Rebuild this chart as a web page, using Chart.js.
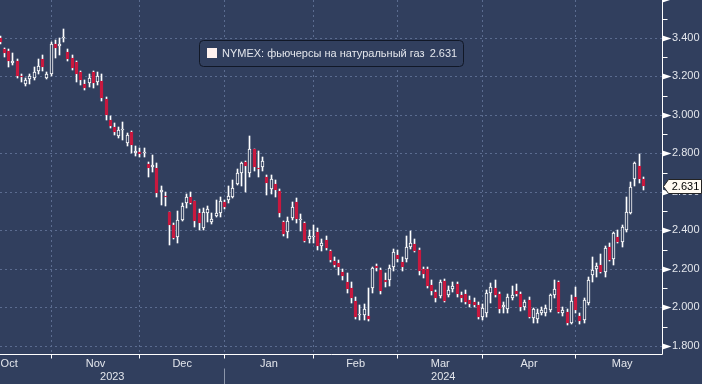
<!DOCTYPE html>
<html><head><meta charset="utf-8">
<script src="https://cdn.jsdelivr.net/npm/chart.js@4.4.1/dist/chart.umd.min.js"></script>
<style>html,body{margin:0;padding:0;background:#313f5e;overflow:hidden}#wrap{width:702px;height:384px;position:relative}</style>
</head><body><div id="wrap"><canvas id="c"></canvas></div>
<script>
// Daily OHLC, NYMEX natural gas front month, mid-Oct 2023 .. late May 2024
const opens = [3.40,3.34,3.33,3.27,3.28,3.20,3.16,3.185,3.19,3.23,
 3.29,3.19,3.21,3.37,3.36,3.40,3.325,3.295,3.275,3.225,
 3.16,3.165,3.225,3.17,3.175,3.085,2.975,2.935,2.89,2.92,
 2.855,2.913,2.80,2.807,2.80,2.745,2.727,2.723,2.597,2.578,
 2.495,2.43,2.365,2.455,2.545,2.575,2.553,2.493,2.41,2.493,
 2.446,2.477,2.493,2.546,2.558,2.576,2.642,2.70,2.754,2.697,
 2.822,2.723,2.731,2.676,2.614,2.642,2.607,2.446,2.394,2.463,
 2.55,2.455,2.437,2.354,2.366,2.39,2.319,2.351,2.295,2.243,
 2.23,2.186,2.13,2.10,2.034,1.96,1.961,1.956,2.10,2.216,
 2.195,2.143,2.143,2.212,2.273,2.238,2.25,2.316,2.33,2.299,
 2.199,2.199,2.117,2.082,2.06,2.139,2.065,2.095,2.122,2.065,
 2.07,2.039,2.03,2.013,1.952,1.97,2.074,2.10,2.07,2.001,
 1.991,2.048,2.087,2.07,2.004,2.039,1.944,1.939,1.973,1.973,
 1.987,2.065,2.134,1.97,1.978,1.921,2.056,1.956,1.935,2.025,
 2.169,2.199,2.221,2.186,2.313,2.25,2.368,2.342,2.403,2.489,
 2.666,2.735,2.666];
const highs = [3.41,3.35,3.34,3.32,3.29,3.21,3.19,3.21,3.25,3.29,
 3.31,3.225,3.38,3.39,3.40,3.445,3.34,3.31,3.28,3.23,
 3.18,3.215,3.23,3.225,3.21,3.095,2.995,2.956,2.935,2.965,
 2.905,2.918,2.84,2.83,2.83,2.757,2.79,2.75,2.633,2.60,
 2.495,2.44,2.50,2.545,2.59,2.60,2.555,2.51,2.515,2.525,
 2.49,2.56,2.575,2.56,2.63,2.66,2.718,2.757,2.76,2.89,
 2.825,2.81,2.78,2.69,2.69,2.66,2.615,2.45,2.47,2.55,
 2.57,2.485,2.445,2.40,2.43,2.41,2.354,2.37,2.30,2.26,
 2.245,2.20,2.18,2.134,2.055,2.01,2.02,2.10,2.21,2.225,
 2.205,2.18,2.22,2.305,2.30,2.26,2.37,2.395,2.355,2.307,
 2.21,2.21,2.14,2.09,2.145,2.15,2.11,2.13,2.13,2.08,
 2.09,2.06,2.05,2.03,2.02,2.09,2.125,2.14,2.08,2.03,
 2.07,2.11,2.12,2.08,2.04,2.055,1.996,1.99,2.00,2.01,
 2.07,2.143,2.135,2.00,1.99,2.065,2.108,1.97,2.05,2.157,
 2.264,2.23,2.278,2.32,2.335,2.394,2.40,2.43,2.576,2.654,
 2.757,2.797,2.675];
const lows = [3.37,3.30,3.25,3.26,3.19,3.17,3.15,3.16,3.18,3.21,
 3.23,3.185,3.20,3.295,3.31,3.38,3.28,3.235,3.17,3.155,
 3.13,3.145,3.14,3.155,3.07,2.975,2.93,2.896,2.88,2.87,
 2.84,2.80,2.785,2.78,2.78,2.68,2.705,2.575,2.53,2.525,
 2.325,2.355,2.335,2.45,2.515,2.535,2.42,2.40,2.40,2.446,
 2.435,2.47,2.47,2.51,2.54,2.567,2.636,2.63,2.60,2.68,
 2.71,2.68,2.71,2.585,2.59,2.576,2.472,2.37,2.36,2.455,
 2.44,2.395,2.34,2.335,2.333,2.30,2.295,2.296,2.235,2.21,
 2.17,2.14,2.074,2.025,1.94,1.935,1.935,1.93,2.074,2.19,
 2.07,2.108,2.11,2.19,2.235,2.19,2.238,2.305,2.29,2.168,
 2.155,2.10,2.065,2.03,2.05,2.03,2.055,2.08,2.055,2.03,
 2.02,2.00,2.00,1.94,1.935,1.95,2.022,2.052,1.97,1.97,
 1.97,2.04,2.057,1.98,1.985,1.945,1.918,1.92,1.96,1.955,
 1.975,2.048,1.97,1.955,1.91,1.913,1.97,1.915,1.92,2.015,
 2.134,2.16,2.178,2.16,2.24,2.22,2.335,2.315,2.394,2.485,
 2.631,2.648,2.61];
const closes = [3.38,3.32,3.28,3.28,3.20,3.195,3.18,3.20,3.225,3.255,
 3.25,3.215,3.37,3.35,3.37,3.405,3.29,3.245,3.215,3.18,
 3.14,3.19,3.165,3.20,3.09,3.00,2.94,2.91,2.92,2.925,
 2.895,2.845,2.81,2.797,2.805,2.723,2.74,2.596,2.61,2.574,
 2.43,2.36,2.455,2.527,2.572,2.54,2.45,2.437,2.498,2.51,
 2.458,2.489,2.555,2.52,2.58,2.62,2.697,2.749,2.737,2.822,
 2.731,2.718,2.761,2.645,2.666,2.61,2.493,2.382,2.449,2.52,
 2.46,2.46,2.347,2.371,2.372,2.32,2.337,2.31,2.247,2.22,
 2.212,2.164,2.096,2.048,1.952,1.965,1.99,1.94,2.204,2.204,
 2.083,2.13,2.204,2.29,2.25,2.212,2.316,2.337,2.295,2.19,
 2.175,2.113,2.083,2.048,2.134,2.035,2.091,2.112,2.07,2.048,
 2.03,2.018,2.013,1.952,1.996,2.077,2.108,2.065,1.99,2.013,
 2.056,2.065,2.07,2.001,2.027,1.95,1.991,1.97,1.987,1.996,
 2.065,2.095,1.978,1.987,1.921,2.034,1.987,1.932,2.039,2.143,
 2.195,2.216,2.186,2.308,2.247,2.386,2.342,2.42,2.498,2.628,
 2.752,2.666,2.631];

const monthNames = ['Oct','Nov','Dec','Jan','Feb','Mar','Apr','May'];
const monthStarts = [-10,12,33,53,74,94,114,136,158]; // trading-day index of each month's first session
const yearNames = ['2023','2024'];
const yearStart2024 = 53;
const yMajorTicks = [1.8,2.0,2.2,2.4,2.6,2.8,3.0,3.2,3.4];
const seriesName = 'NYMEX: фьючерсы на натуральный газ';
const lastPrice = closes[closes.length - 1];

// ---- styling / layout ----
const BG = '#313f5e', GRID = '#5b6c90', RED = '#c8193f', TXT = '#e3e6ec', WHITE = '#ffffff';
const FONT = '"Liberation Sans", Arial, sans-serif';
const X_MIN = -0.07, X_MAX = 156.43, Y_MIN = 1.758, Y_MAX = 3.597;

const monthCenters = monthNames.map((_, k) => Math.max((monthStarts[k] + monthStarts[k + 1]) / 2, 2.1));
const yearCenters = [(X_MIN + yearStart2024) / 2, (yearStart2024 + X_MAX) / 2];
const isUp = i => closes[i] >= opens[i];

const wickData = highs.map((h, i) => ({ x: i, y: [lows[i], h] }));
const bodyData = opens.map((o, i) => ({ x: i, y: [o, closes[i]] }));

const snapPlugin = {
  id: 'snap',
  afterDatasetsUpdate(chart) {
    chart.getSortedVisibleDatasetMetas().forEach(meta => meta.data.forEach(el => {
      el.x = Math.floor(el.x) + 0.5;
      el.y = Math.round(el.y);
      el.base = Math.round(el.base);
    }));
  }
};

const decorPlugin = {
  id: 'decor',
  beforeDraw(chart) {
    const c = chart.ctx;
    c.save(); c.fillStyle = BG; c.fillRect(0, 0, chart.width, chart.height); c.restore();
  },
  beforeDatasetsDraw(chart) {
    const c = chart.ctx, a = chart.chartArea, xs = chart.scales.x, ys = chart.scales.y;
    c.save();
    c.strokeStyle = GRID; c.lineWidth = 1; c.setLineDash([2, 3]);
    yMajorTicks.forEach(v => {
      const py = Math.round(ys.getPixelForValue(v)) + 0.5;
      c.beginPath(); c.moveTo(a.left, py); c.lineTo(a.right, py); c.stroke();
    });
    monthStarts.forEach(m => {
      if (m <= X_MIN || m >= X_MAX) return;
      const px = Math.floor(xs.getPixelForValue(m)) + 0.5;
      c.beginPath(); c.moveTo(px, a.top); c.lineTo(px, a.bottom); c.stroke();
    });
    c.restore();
  },
  afterDraw(chart) {
    const c = chart.ctx, a = chart.chartArea, xs = chart.scales.x, ys = chart.scales.y;
    c.save();
    c.strokeStyle = WHITE; c.fillStyle = WHITE; c.lineWidth = 1; c.setLineDash([]);
    const R = Math.round(a.right) + 0.5, B = Math.round(a.bottom) + 0.5;
    c.beginPath(); c.moveTo(R, a.top); c.lineTo(R, B); c.lineTo(a.left, B); c.stroke();
    // x ticks and year separator
    monthStarts.forEach(m => {
      if (m <= X_MIN || m >= X_MAX) return;
      const px = Math.floor(xs.getPixelForValue(m)) + 0.5;
      c.beginPath(); c.moveTo(px, B); c.lineTo(px, B + 4); c.stroke();
    });
    c.strokeStyle = '#8c96aa';
    const sx = Math.floor(xs.getPixelForValue(yearStart2024)) + 0.5;
    c.beginPath(); c.moveTo(sx, B + 14); c.lineTo(sx, chart.height); c.stroke();
    // y ticks: arrows on majors, short marks on minors
    c.strokeStyle = WHITE;
    for (let k = 18; k <= 36; k++) {
      const v = k / 10;
      const py = Math.round(ys.getPixelForValue(v)) + 0.5;
      if (k % 2 === 0) {
        c.beginPath(); c.moveTo(R, py - 3); c.lineTo(R + 9, py); c.lineTo(R, py + 3); c.closePath(); c.fill();
      } else {
        c.beginPath(); c.moveTo(R, py); c.lineTo(R + 5, py); c.stroke();
      }
    }
    // legend box
    const lx = 199.5, ly = 40.5, lw = 264, lh = 26, r = 4;
    c.beginPath();
    c.moveTo(lx + r, ly); c.lineTo(lx + lw - r, ly); c.quadraticCurveTo(lx + lw, ly, lx + lw, ly + r);
    c.lineTo(lx + lw, ly + lh - r); c.quadraticCurveTo(lx + lw, ly + lh, lx + lw - r, ly + lh);
    c.lineTo(lx + r, ly + lh); c.quadraticCurveTo(lx, ly + lh, lx, ly + lh - r);
    c.lineTo(lx, ly + r); c.quadraticCurveTo(lx, ly, lx + r, ly); c.closePath();
    c.fillStyle = BG; c.fill(); c.strokeStyle = '#111827'; c.stroke();
    c.fillStyle = '#fff2ef'; c.fillRect(207, 48, 10, 10);
    c.fillStyle = TXT; c.font = '11px ' + FONT; c.textBaseline = 'middle'; c.textAlign = 'left';
    c.fillText(seriesName, 222, 53.5);
    const w = c.measureText(seriesName + '  ').width;
    c.fillText(lastPrice.toFixed(3), 221 + w, 53.5);
    // last price label
    const py = Math.round(ys.getPixelForValue(lastPrice)) + 0.5;
    c.beginPath();
    c.moveTo(R + 1, py); c.lineTo(R + 6, py - 7); c.lineTo(701.5, py - 7); c.lineTo(701.5, py + 7); c.lineTo(R + 6, py + 7); c.closePath();
    c.fillStyle = '#fffaf2'; c.fill(); c.strokeStyle = '#222222'; c.stroke();
    c.fillStyle = '#000000'; c.textAlign = 'center';
    c.fillText(lastPrice.toFixed(3), (R + 6 + 701.5) / 2 + 0.5, py + 0.5);
    c.restore();
  }
};

new Chart(document.getElementById('c'), {
  type: 'bar',
  data: {
    datasets: [
      { label: 'wick', data: wickData, order: 2, grouped: false, barThickness: 1,
        backgroundColor: WHITE, borderWidth: 0, borderSkipped: false },
      { label: seriesName, data: bodyData, order: 1, grouped: false, barThickness: 3,
        backgroundColor: ctx => isUp(ctx.dataIndex) ? BG : RED,
        borderColor: ctx => isUp(ctx.dataIndex) ? WHITE : RED,
        borderWidth: 1, borderSkipped: false }
    ]
  },
  options: {
    responsive: true, maintainAspectRatio: false, animation: false,
    layout: { padding: 0 },
    plugins: { legend: { display: false }, tooltip: { enabled: false } },
    scales: {
      x: {
        type: 'linear', position: 'bottom', weight: 0, min: X_MIN, max: X_MAX, offset: false,
        afterBuildTicks: s => { s.ticks = monthCenters.map(v => ({ value: v })); },
        ticks: { autoSkip: false, maxRotation: 0, minRotation: 0, padding: 3, color: TXT,
          font: { family: FONT, size: 11 }, callback: (v, i) => monthNames[i] },
        grid: { display: false, drawTicks: false, offset: false }, border: { display: false },
        afterFit: s => { s.height = 15; s.paddingLeft = 0; s.paddingRight = 0; }
      },
      x2: {
        type: 'linear', position: 'bottom', weight: 1, min: X_MIN, max: X_MAX, offset: false,
        afterBuildTicks: s => { s.ticks = yearCenters.map(v => ({ value: v })); },
        ticks: { autoSkip: false, maxRotation: 0, minRotation: 0, padding: 1, color: TXT,
          font: { family: FONT, size: 11 }, callback: (v, i) => yearNames[i] },
        grid: { display: false, drawTicks: false, offset: false }, border: { display: false },
        afterFit: s => { s.height = 15; s.paddingLeft = 0; s.paddingRight = 0; }
      },
      y: {
        type: 'linear', position: 'right', min: Y_MIN, max: Y_MAX,
        afterBuildTicks: s => { s.ticks = yMajorTicks.map(v => ({ value: v })); },
        ticks: { padding: 10, color: TXT, font: { family: FONT, size: 11 },
          callback: v => Number(v).toFixed(3) },
        grid: { display: false, drawTicks: false }, border: { display: false },
        afterFit: s => { s.width = 40; s.paddingTop = 0; s.paddingBottom = 0; }
      }
    }
  },
  plugins: [snapPlugin, decorPlugin]
});
</script>
</body></html>
